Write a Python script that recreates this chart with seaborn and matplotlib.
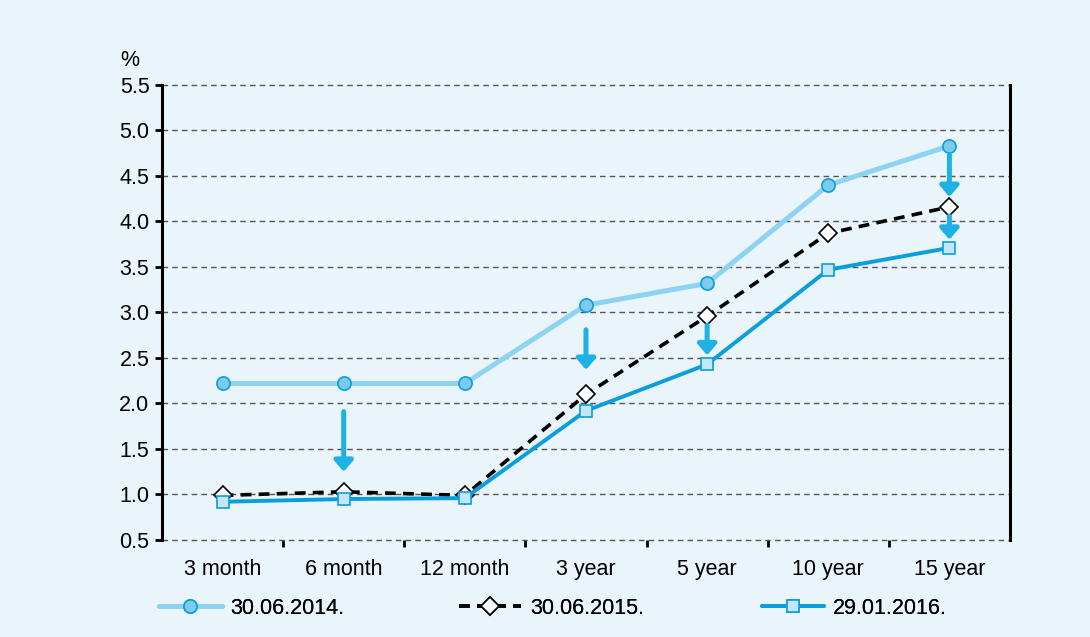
import numpy as np
import pandas as pd
import matplotlib
matplotlib.use("Agg")
import matplotlib.pyplot as plt
import seaborn as sns

maturities = ["3 month", "6 month", "12 month", "3 year", "5 year", "10 year", "15 year"]
y_2014 = [2.22, 2.22, 2.22, 3.08, 3.32, 4.40, 4.83]
y_2015 = [0.99, 1.03, 0.99, 2.10, 2.96, 3.87, 4.16]
y_2016 = [0.92, 0.95, 0.96, 1.92, 2.43, 3.47, 3.71]
series_labels = ["30.06.2014.", "30.06.2015.", "29.01.2016."]

# arrows: (category index, start value, end value)
arrows = [(1, 1.91, 1.25), (3, 2.81, 2.37), (4, 2.86, 2.53), (6, 4.73, 4.27), (6, 4.06, 3.80)]

bg = "#eaf4fb"
light_blue = "#8dd4f2"
dark_blue = "#0a9fdc"
arrow_col = "#1cb2e6"

sns.set_style("white")
plt.rcParams["font.family"] = ["Liberation Sans", "DejaVu Sans"]
plt.rcParams["font.size"] = 15.5
plt.rcParams["text.color"] = "black"
plt.rcParams["xtick.color"] = "black"
plt.rcParams["ytick.color"] = "black"

x = np.arange(len(maturities))
df = pd.DataFrame({
    "pos": np.tile(x, 3),
    "value": y_2014 + y_2015 + y_2016,
    "series": np.repeat(series_labels, len(maturities)),
})

fig = plt.figure(figsize=(10.9, 6.37), dpi=100, facecolor=bg)
ax = fig.add_axes([0.1486, 0.1523, 0.7780, 0.7143])
ax.set_facecolor(bg)

d = df[df["series"] == series_labels[0]]
sns.lineplot(data=d, x="pos", y="value", ax=ax, color=light_blue, lw=3.6,
             marker="o", markersize=9.5, markerfacecolor="#7ccbec", markeredgecolor=dark_blue,
             markeredgewidth=1.2, label=series_labels[0], zorder=3)
d = df[df["series"] == series_labels[1]]
sns.lineplot(data=d, x="pos", y="value", ax=ax, color="black", lw=2.6,
             marker="D", markersize=9, markerfacecolor="white", markeredgecolor="black",
             markeredgewidth=1.2, label=series_labels[1], zorder=4)
ax.lines[-1].set_dashes([3.0, 2.0])
d = df[df["series"] == series_labels[2]]
sns.lineplot(data=d, x="pos", y="value", ax=ax, color=dark_blue, lw=2.8,
             marker="s", markersize=9, markerfacecolor="#c3e6f8", markeredgecolor=dark_blue,
             markeredgewidth=1.2, label=series_labels[2], zorder=5)

for xi, y0, y1 in arrows:
    ax.annotate("", xy=(xi, y1), xytext=(xi, y0),
                arrowprops=dict(arrowstyle="-|>,head_width=0.36,head_length=0.42",
                                lw=3.6, color=arrow_col, shrinkA=0, shrinkB=0),
                zorder=6)

ax.set_xlim(-0.5, 6.5)
ax.set_ylim(0.5, 5.5)
yt = np.arange(0.5, 5.51, 0.5)
ax.set_yticks(yt)
ax.set_yticklabels([f"{v:.1f}" for v in yt])
ax.set_xticks(x)
ax.set_xticklabels(maturities)
ax.set_xticks(np.arange(0.5, 6.0, 1.0), minor=True)
ax.tick_params(axis="x", which="major", bottom=True, length=0, pad=14)
ax.tick_params(axis="x", which="minor", bottom=True, length=5, width=2, direction="out")
ax.tick_params(axis="y", which="major", left=True, length=5, width=2, direction="out", pad=4)
ax.set_xlabel("")
ax.set_ylabel("")

ax.grid(False)
for v in yt:
    ax.axhline(v, linestyle=(0, (4, 3)), color="#555555", lw=1.0, zorder=1, clip_on=False)
for s in ["top", "bottom"]:
    ax.spines[s].set_visible(False)
for s in ["left", "right"]:
    ax.spines[s].set_color("black")
    ax.spines[s].set_linewidth(2.2)

ax.text(-0.038, 1.03, "%", transform=ax.transAxes, fontsize=15.5, ha="center", va="bottom")

handles, labels = ax.get_legend_handles_labels()
ax.get_legend().remove()
leg_x = [0.146, 0.421, 0.699]
for h, l, lx in zip(handles, labels, leg_x):
    lg = fig.legend([h], [l], loc="center left", bbox_to_anchor=(lx, 0.045), frameon=False,
                    handlelength=2.9, handletextpad=0.4, borderpad=0, borderaxespad=0,
                    fontsize=15.5)
    fig.add_artist(lg)

fig.savefig("out.png", dpi=100, facecolor=bg)
